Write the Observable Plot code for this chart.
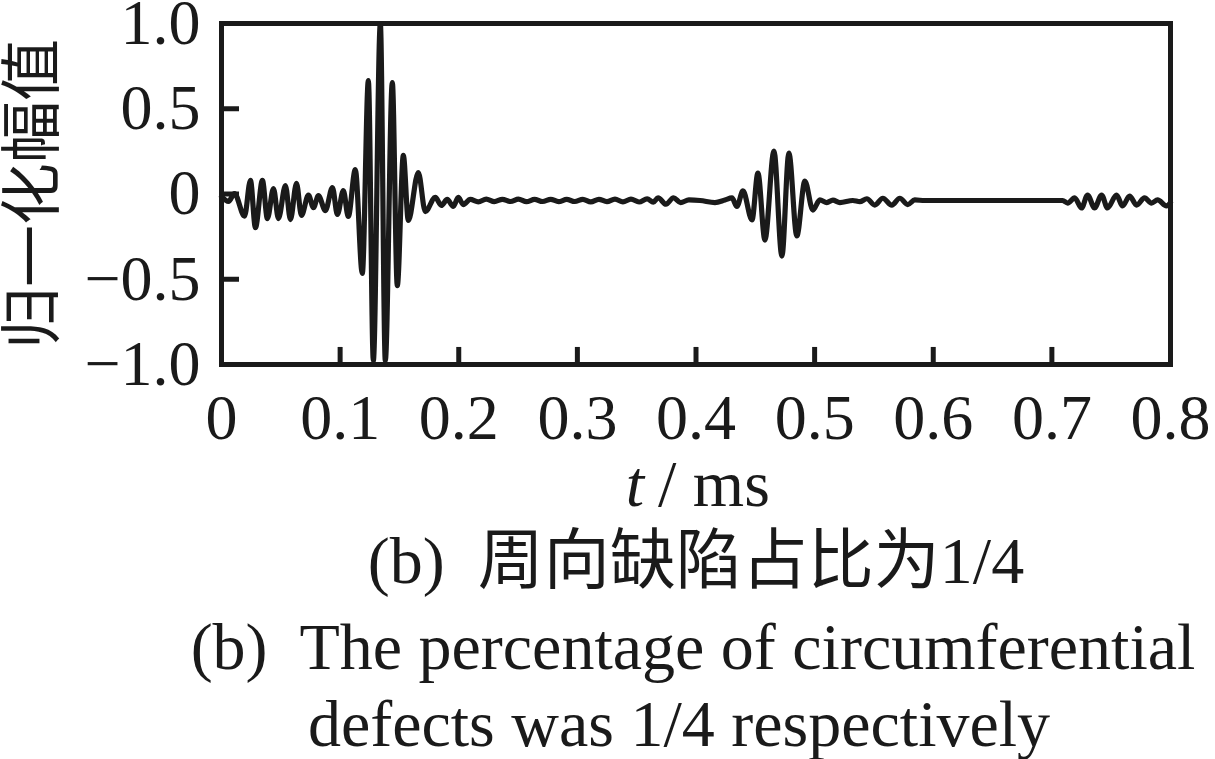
<!DOCTYPE html>
<html>
<head>
<meta charset="utf-8">
<script src="https://cdn.jsdelivr.net/npm/d3@7"></script>
<script src="https://cdn.jsdelivr.net/npm/@observablehq/plot@0.6"></script>
<style>
  html, body { margin: 0; padding: 0; background: #fff; }
  svg text { white-space: pre; }
</style>
</head>
<body>
<div id="chart"></div>
<script>
// time (ms) of extrema / sample points
const time = [
  // early ripple and main echo
  0, 0.0059, 0.0109, 0.0194, 0.0244, 0.0286, 0.0345, 0.0387, 0.0438, 0.0480,
  0.0539, 0.0581, 0.0632, 0.0674, 0.0733, 0.0775, 0.0817, 0.0876, 0.0935, 0.0977,
  0.1027, 0.1069, 0.1128, 0.1187, 0.1238, 0.1280, 0.1339, 0.1381, 0.1440, 0.1482,
  0.1533, 0.1575, 0.1659, 0.1718, 0.1802, 0.1853, 0.1903, 0.1954, 0.1996, 0.2038, 0.2097,
  // quiet part
  0.2165, 0.2232, 0.2300, 0.2368, 0.2436, 0.2503, 0.2571, 0.2639, 0.2707, 0.2775,
  0.2842, 0.2910, 0.2978, 0.3046, 0.3113, 0.3181, 0.3249, 0.3317, 0.3384, 0.3452,
  0.3520, 0.3588, 0.3640, 0.3680, 0.3747, 0.3810, 0.3870, 0.3940, 0.4034,
  // defect echo
  0.4160, 0.4244, 0.4303, 0.4345, 0.4396, 0.4472, 0.4522, 0.4581, 0.4657, 0.4724,
  0.4783, 0.4850, 0.4918, 0.4985, 0.5044, 0.5103, 0.5154, 0.5213, 0.5322,
  // small ripple and flat part
  0.5381, 0.5440, 0.5507, 0.5575, 0.5651, 0.5718, 0.5785, 0.5844, 0.5928, 0.6500, 0.7091,
  // end echo
  0.7133, 0.7192, 0.7250, 0.7301, 0.7360, 0.7419, 0.7469, 0.7545, 0.7596, 0.7655,
  0.7714, 0.7781, 0.7840, 0.7891, 0.7966, 0.8000
];
// normalized amplitude at those times
const amplitude = [
  -0.015, -0.044, 0.003, -0.130, 0.080, -0.197, 0.080, -0.144, 0.032, -0.144,
  0.050, -0.150, 0.062, -0.126, -0.006, -0.080, -0.010, -0.097, 0.038, -0.120,
  0.020, -0.132, 0.143, -0.466, 0.665, -0.977, 1.000, -0.977, 0.654, -0.537,
  0.226, -0.155, 0.126, -0.103, -0.020, -0.067, -0.032, -0.073, -0.020, -0.062, -0.032,
  -0.046, -0.030, -0.045, -0.031, -0.044, -0.030, -0.045, -0.032, -0.044, -0.031,
  -0.045, -0.032, -0.044, -0.031, -0.046, -0.031, -0.045, -0.030, -0.046, -0.030,
  -0.047, -0.029, -0.048, -0.022, -0.060, -0.022, -0.050, -0.035, -0.038,
  -0.050, -0.035, -0.023, -0.073, 0.018, -0.152, 0.123, -0.270, 0.252, -0.364,
  0.240, -0.246, 0.076, -0.094, -0.035, -0.050, -0.036, -0.050, -0.038,
  -0.045, -0.028, -0.065, -0.025, -0.065, -0.025, -0.062, -0.035, -0.038, -0.038, -0.038,
  -0.053, -0.023, -0.082, -0.006, -0.082, -0.006, -0.082, -0.006, -0.070, -0.012,
  -0.065, -0.023, -0.053, -0.035, -0.070, -0.050
];

const xTicks = [0, 0.1, 0.2, 0.3, 0.4, 0.5, 0.6, 0.7, 0.8];
const xTickLabels = ["0", "0.1", "0.2", "0.3", "0.4", "0.5", "0.6", "0.7", "0.8"];
const yTicks = [1, 0.5, 0, -0.5, -1];
const yTickLabels = ["1.0", "0.5", "0", "\u22120.5", "\u22121.0"];

const yLabel = "归一化幅值";
const xLabelVar = "t";
const xLabelUnit = "/ ms";
const captionZh = "(b)  周向缺陷占比为1/4";
const captionEn1 = "(b)  The percentage of circumferential";
const captionEn2 = "defects was 1/4 respectively";

const data = time.map((t, i) => ({t, v: amplitude[i]}));

const ink = "#1a1a1a";
const serif = "'Liberation Serif', 'Times New Roman', serif";
const zhFont = "'Liberation Serif', 'Noto Sans CJK SC', serif";

const chart = Plot.plot({
  width: 1215,
  height: 759,
  marginLeft: 221,
  marginRight: 45,
  marginTop: 23,
  marginBottom: 395,
  x: {domain: [0, 0.8], axis: null},
  y: {domain: [-1, 1], axis: null},
  style: {background: "white", fontFamily: serif, color: ink},
  marks: [
    Plot.line(data, {x: "t", y: "v", curve: "monotone-x", stroke: ink, strokeWidth: 5.2}),
    Plot.ruleX(xTicks.slice(1, -1), {x: d => d, y1: -1, y2: -0.9, stroke: ink, strokeWidth: 5}),
    Plot.ruleY(yTicks.slice(1, -1), {y: d => d, x1: 0, x2: 0.0152, stroke: ink, strokeWidth: 5}),
    Plot.frame({stroke: ink, strokeWidth: 5}),
    Plot.text(xTicks, {x: d => d, text: (d, i) => xTickLabels[i], frameAnchor: "bottom",
      textAnchor: "middle", lineAnchor: "bottom", dy: 74, fontSize: 64, fill: ink, fontFamily: serif}),
    Plot.text(yTicks, {y: d => d, text: (d, i) => yTickLabels[i], frameAnchor: "left",
      textAnchor: "end", lineAnchor: "middle", dx: -21, fontSize: 64, fill: ink, fontFamily: serif}),
    Plot.text([yLabel], {frameAnchor: "left", textAnchor: "middle", lineAnchor: "middle",
      dx: -187, rotate: -90, fontSize: 62, fill: ink, fontFamily: "'Noto Sans CJK SC', sans-serif"}),
    Plot.text([xLabelVar], {frameAnchor: "bottom", textAnchor: "end", lineAnchor: "bottom",
      dx: -52, dy: 141, fontSize: 66, fontStyle: "italic", fill: ink, fontFamily: serif}),
    Plot.text([xLabelUnit], {frameAnchor: "bottom", textAnchor: "start", lineAnchor: "bottom",
      dx: -38, dy: 141, fontSize: 66, fill: ink, fontFamily: serif}),
    Plot.text([captionZh], {frameAnchor: "bottom", textAnchor: "middle", lineAnchor: "bottom",
      dy: 218, fontSize: 66, fill: ink, fontFamily: zhFont}),
    Plot.text([captionEn1], {frameAnchor: "bottom", textAnchor: "middle", lineAnchor: "bottom",
      dx: -3, dy: 304, fontSize: 66, fill: ink, fontFamily: serif}),
    Plot.text([captionEn2], {frameAnchor: "bottom", textAnchor: "middle", lineAnchor: "bottom",
      dx: -17, dy: 381, fontSize: 66, fill: ink, fontFamily: serif})
  ]
});
document.getElementById("chart").append(chart);
</script>
</body>
</html>
